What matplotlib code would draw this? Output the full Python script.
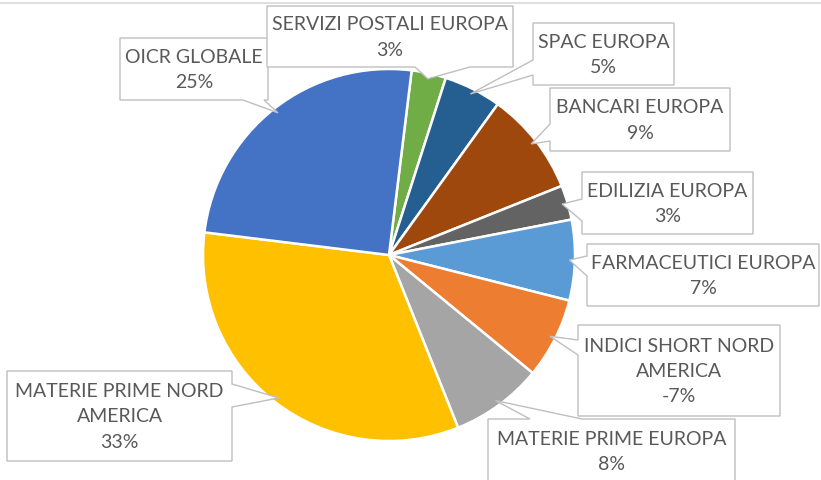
import numpy as np
import matplotlib
matplotlib.use("Agg")
import matplotlib.pyplot as plt
from matplotlib.patches import Polygon

# --- data ---
labels = ["SERVIZI POSTALI EUROPA", "SPAC EUROPA", "BANCARI EUROPA", "EDILIZIA EUROPA",
          "FARMACEUTICI EUROPA", "INDICI SHORT NORD\nAMERICA", "MATERIE PRIME EUROPA",
          "MATERIE PRIME NORD\nAMERICA", "OICR GLOBALE"]
values = [3, 5, 9, 3, 7, 7, 8, 33, 25]
shown = ["3%", "5%", "9%", "3%", "7%", "-7%", "8%", "33%", "25%"]
colors = ["#70AD47", "#255E91", "#9E480E", "#636363", "#5B9BD5",
          "#ED7D31", "#A5A5A5", "#FFC000", "#4472C4"]

W, H = 821, 481
CX, CY, R = 389, 256, 186  # pie centre / radius in pixels (top-left origin)

# label boxes: (left, top, right, bottom), side of pointer, pointer base (two coords on that side)
boxes = [
    ((267, 7, 513, 68), "bottom", (415, 470)),
    ((533, 24, 674, 86), "left", (61, 76)),
    ((550, 89, 730, 152), "left", (125, 142)),
    ((582, 173, 753, 235), "left", (200, 222)),
    ((587, 245, 819, 307), "left", (257, 277)),
    ((578, 326, 780, 417), "left", (341, 356)),
    ((488, 420, 735, 500), "top", (530, 582)),
    ((7, 372, 232, 462), "right", (385, 408)),
    ((120, 39, 268, 101), "bottom", (243, 264)),
]


def fy(y):
    return H - y


fig = plt.figure(figsize=(W / 100, H / 100), dpi=100)
ax = fig.add_axes([0, 0, 1, 1])
ax.set_xlim(0, W)
ax.set_ylim(0, H)
ax.set_aspect("equal")
ax.axis("off")

wedges, _ = ax.pie(values, colors=colors, startangle=83, counterclock=False,
                   center=(CX, fy(CY)), radius=R,
                   wedgeprops=dict(edgecolor="white", linewidth=1.8))
ax.set_xlim(0, W)
ax.set_ylim(0, H)

# top rule
ax.plot([0, W], [fy(4), fy(4)], color="#D9D9D9", lw=1.2, zorder=1)

# draw boxes (OICR first so the postal box sits on top of it)
order = [8, 0, 1, 2, 3, 4, 5, 6, 7]
for z, i in enumerate(order):
    (l, t, r, b), side, (a1, a2) = boxes[i]
    w = wedges[i]
    mid = np.deg2rad((w.theta1 + w.theta2) / 2)
    tip = (CX + 0.97 * R * np.cos(mid), fy(CY) + 0.97 * R * np.sin(mid))
    T, B = fy(t), fy(b)
    if side == "left":
        pts = [(l, T), (r, T), (r, B), (l, B), (l, fy(a2)), tip, (l, fy(a1))]
    elif side == "right":
        pts = [(l, T), (r, T), (r, fy(a1)), tip, (r, fy(a2)), (r, B), (l, B)]
    elif side == "top":
        pts = [(l, T), (a1, T), tip, (a2, T), (r, T), (r, B), (l, B)]
    else:
        pts = [(l, T), (r, T), (r, B), (a2, B), tip, (a1, B), (l, B)]
    ax.add_patch(Polygon(pts, closed=True, facecolor="white", edgecolor="#BFBFBF",
                         lw=1.0, zorder=3 + 2 * z))
    ax.text((l + r) / 2, (T + B) / 2 if side != "top" else fy(t + 32),
            labels[i] + "\n" + shown[i], ha="center", va="center",
            fontsize=14, family="Lato", color="#595959", linespacing=1.6,
            zorder=4 + 2 * z)

fig.savefig("out.png", dpi=100)
